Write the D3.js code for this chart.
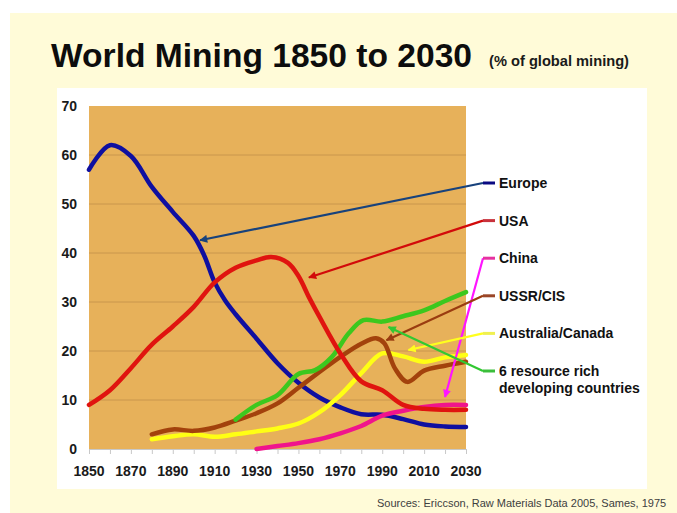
<!DOCTYPE html>
<html>
<head>
<meta charset="utf-8">
<script src="https://cdn.jsdelivr.net/npm/d3@7"></script>
<style>
  html, body { margin: 0; padding: 0; background: #ffffff; }
  svg { display: block; font-family: Arial, "Liberation Sans", Helvetica, sans-serif; }
</style>
</head>
<body>
<svg id="chart" width="677" height="513"></svg>
<script>
// Share of global mining output (%), by region
const europeYears  = [1850, 1860, 1870, 1880, 1890, 1900, 1905, 1910, 1915, 1920, 1930, 1940, 1950, 1960, 1970, 1980, 1990, 2000, 2010, 2020, 2030];
const europeValues = [57, 62, 59.8, 53.5, 48.4, 43.5, 39.5, 34, 30.3, 27.5, 22.5, 17.5, 13.5, 10.5, 8.5, 7.1, 7, 6.1, 5, 4.6, 4.5];

const usaYears  = [1850, 1860, 1870, 1880, 1890, 1900, 1910, 1920, 1930, 1937, 1945, 1950, 1955, 1960, 1970, 1980, 1990, 2000, 2010, 2020, 2030];
const usaValues = [9, 12, 16.5, 21.3, 25, 29, 34, 37, 38.5, 39.2, 38, 35.3, 31, 27, 19.5, 13.8, 12, 9, 8.2, 8, 8];

const chinaYears  = [1930, 1940, 1950, 1960, 1970, 1980, 1990, 2000, 2010, 2020, 2030];
const chinaValues = [0, 0.6, 1.2, 2, 3.2, 4.7, 6.8, 7.8, 8.6, 9, 9];

const ussrYears  = [1880, 1890, 1900, 1910, 1920, 1930, 1940, 1950, 1960, 1970, 1980, 1987, 1991, 1996, 2002, 2010, 2020, 2030];
const ussrValues = [3, 4, 3.7, 4.4, 5.8, 7.3, 9.3, 12.5, 15.7, 18.8, 21.5, 22.6, 21.6, 16.5, 13.7, 16, 17, 17.8];

const ausCanYears  = [1880, 1890, 1900, 1910, 1920, 1930, 1940, 1950, 1960, 1970, 1980, 1990, 2000, 2010, 2020, 2030];
const ausCanValues = [2, 2.6, 3, 2.5, 3, 3.6, 4.2, 5.2, 7.5, 11, 15.5, 19.5, 18.9, 17.8, 18.7, 19.2];

const resourceYears  = [1920, 1930, 1940, 1950, 1958, 1966, 1974, 1981, 1990, 2000, 2010, 2020, 2030];
const resourceValues = [6, 9, 11, 15.3, 16.1, 18.8, 23.6, 26.3, 26, 27.1, 28.3, 30.2, 32];

const seriesNames = ["Europe", "USA", "China", "USSR/CIS", "Australia/Canada", "6 resource rich|developing countries"];

// Where each label's pointer lands, in (year, %)
const pointerYears  = [1903, 1955, 2020, 1992, 2002.5, 1993];
const pointerValues = [42.6, 35, 10.6, 22.2, 20.2, 24.9];

const yTicks = [0, 10, 20, 30, 40, 50, 60, 70];
const xTicks = [1850, 1870, 1890, 1910, 1930, 1950, 1970, 1990, 2010, 2030];
const xMinorTicks = d3.range(1850, 2031, 10);

const svg = d3.select("#chart");

// Backgrounds: pale yellow slide, white chart panel
svg.append("rect").attr("x", 10).attr("y", 13).attr("width", 667).attr("height", 500).attr("fill", "#fffbd8");
svg.append("rect").attr("x", 57).attr("y", 88).attr("width", 590).attr("height", 401).attr("fill", "#ffffff");

// Title
svg.append("text").attr("x", 51).attr("y", 67)
  .attr("font-size", 34).attr("font-weight", "bold").attr("fill", "#0d0d0d")
  .attr("textLength", 421).attr("lengthAdjust", "spacingAndGlyphs")
  .text("World Mining 1850 to 2030");
svg.append("text").attr("x", 489).attr("y", 66)
  .attr("font-size", 14).attr("font-weight", "bold").attr("fill", "#1a1a1a")
  .attr("textLength", 140).attr("lengthAdjust", "spacingAndGlyphs")
  .text("(% of global mining)");

const x = d3.scaleLinear().domain([1850, 2030]).range([89, 466]);
const y = d3.scaleLinear().domain([0, 70]).range([449, 106]);

// Plot area
svg.append("rect")
  .attr("x", x(1850)).attr("y", y(70))
  .attr("width", x(2030) - x(1850)).attr("height", y(0) - y(70))
  .attr("fill", "#e7b15a");

// Horizontal gridlines
svg.append("g").selectAll("line")
  .data(yTicks.filter(d => d > 0 && d < 70))
  .join("line")
  .attr("x1", x(1850)).attr("x2", x(2030))
  .attr("y1", d => y(d)).attr("y2", d => y(d))
  .attr("stroke", "#c9964c").attr("stroke-width", 1);

// X axis (minor ticks every decade, labels every 20 years)
const xAxis = svg.append("g").attr("transform", `translate(0,${y(0)})`)
  .call(d3.axisBottom(x).tickValues(xMinorTicks).tickSize(5).tickFormat(""));
xAxis.select(".domain").attr("stroke", "#c8c8c8");
xAxis.selectAll(".tick line").attr("stroke", "#c8c8c8");

svg.append("g").selectAll("text")
  .data(xTicks)
  .join("text")
  .attr("x", d => x(d)).attr("y", 476)
  .attr("text-anchor", "middle")
  .attr("font-size", 14).attr("font-weight", "bold").attr("fill", "#1a1a1a")
  .text(d => d);

// Y axis labels
const yAxis = svg.append("g").attr("transform", `translate(${x(1850) - 12},0)`)
  .call(d3.axisLeft(y).tickValues(yTicks).tickSize(0).tickPadding(0));
yAxis.select(".domain").remove();
yAxis.selectAll("text")
  .attr("font-size", 14).attr("font-weight", "bold").attr("fill", "#1a1a1a")
  .attr("font-family", "Arial, 'Liberation Sans', sans-serif");

// Data lines
const series = [
  { years: europeYears,    values: europeValues,    color: "#0f0fa0" },
  { years: usaYears,       values: usaValues,       color: "#e0140f" },
  { years: chinaYears,     values: chinaValues,     color: "#f0148c" },
  { years: ussrYears,      values: ussrValues,      color: "#a3420c" },
  { years: ausCanYears,    values: ausCanValues,    color: "#ffff14" },
  { years: resourceYears,  values: resourceValues,  color: "#3cc81e" }
];

const line = d3.line()
  .x(d => x(d[0]))
  .y(d => y(d[1]))
  .curve(d3.curveCatmullRom.alpha(0.5));

const drawOrder = [0, 2, 4, 3, 5, 1];
svg.append("g").selectAll("path")
  .data(drawOrder.map(i => series[i]))
  .join("path")
  .attr("d", s => line(s.years.map((yr, i) => [yr, s.values[i]])))
  .attr("fill", "none")
  .attr("stroke", s => s.color)
  .attr("stroke-width", 4.5)
  .attr("stroke-linecap", "round")
  .attr("stroke-linejoin", "round");

// Labels with pointer arrows
const arrowColors  = ["#17427c", "#d20a0a", "#ff14ff", "#9a3c10", "#ffff1e", "#32c832"];
const markerColors = ["#0a0a82", "#c8323c", "#e632a0", "#9a4628", "#f0f050", "#3cbe3c"];
const labelY0 = 183, labelStep = 37.6, jointX = 483, labelX = 499;

const defs = svg.append("defs");
arrowColors.forEach((c, i) => {
  defs.append("marker")
    .attr("id", "arrow" + i)
    .attr("viewBox", "0 0 10 10")
    .attr("refX", 9).attr("refY", 5)
    .attr("markerWidth", 10).attr("markerHeight", 8)
    .attr("markerUnits", "userSpaceOnUse")
    .attr("orient", "auto")
    .append("path").attr("d", "M0,0 L10,5 L0,10 Z").attr("fill", c);
});

const labels = svg.append("g");
seriesNames.forEach((name, i) => {
  const ly = labelY0 + i * labelStep;
  labels.append("line")
    .attr("x1", jointX).attr("y1", ly)
    .attr("x2", x(pointerYears[i])).attr("y2", y(pointerValues[i]))
    .attr("stroke", arrowColors[i]).attr("stroke-width", 2.2)
    .attr("marker-end", `url(#arrow${i})`);
  labels.append("line")
    .attr("x1", jointX).attr("x2", jointX + 12)
    .attr("y1", ly).attr("y2", ly)
    .attr("stroke", markerColors[i]).attr("stroke-width", 3);
  const parts = name.split("|");
  const t = labels.append("text")
    .attr("x", labelX).attr("y", ly + 5)
    .attr("font-size", 14).attr("font-weight", "bold").attr("fill", "#111");
  parts.forEach((p, k) => {
    t.append("tspan").attr("x", labelX).attr("dy", k === 0 ? 0 : 17).text(p);
  });
});

// Source note
svg.append("text").attr("x", 377).attr("y", 507)
  .attr("font-size", 11).attr("fill", "#404040")
  .text("Sources: Ericcson, Raw Materials Data 2005, Sames, 1975");
</script>
</body>
</html>
